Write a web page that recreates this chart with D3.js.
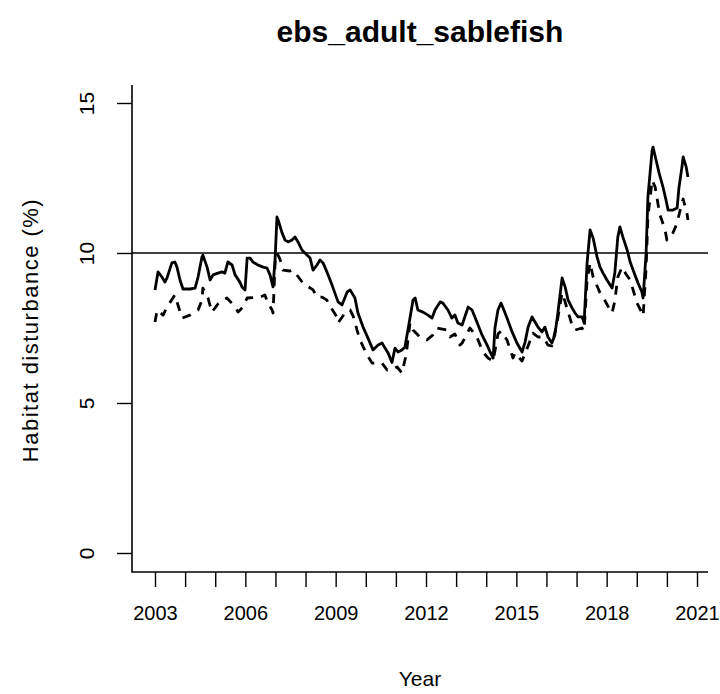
<!DOCTYPE html>
<html><head><meta charset="utf-8">
<script src="https://cdn.jsdelivr.net/npm/d3@7"></script>
<style>
html,body{margin:0;padding:0;background:#fff;}
text{font-family:"Liberation Sans",Arial,sans-serif;fill:#000;}
</style></head>
<body>
<svg id="chart" width="720" height="694"></svg>
<script>
const titleText = "ebs_adult_sablefish";
const xLabel = "Year";
const yLabel = "Habitat disturbance (%)";
const yTicks = [0, 5, 10, 15];
const xTicks = d3.range(2003, 2022);
const xTickLabels = [2003, 2006, 2009, 2012, 2015, 2018, 2021];
const refLine = 10;

const solidYears = [2003.00,2003.10,2003.23,2003.33,2003.40,2003.56,2003.66,2003.73,2003.83,2003.93,2004.16,2004.33,2004.43,2004.56,2004.59,2004.73,2004.83,2004.93,2005.09,2005.23,2005.32,2005.42,2005.56,2005.66,2005.82,2005.89,2005.99,2006.06,2006.16,2006.25,2006.42,2006.59,2006.72,2006.82,2006.92,2006.99,2007.05,2007.09,2007.22,2007.32,2007.42,2007.55,2007.65,2007.75,2007.88,2007.98,2008.15,2008.25,2008.38,2008.48,2008.58,2008.71,2008.88,2009.08,2009.21,2009.38,2009.48,2009.64,2009.74,2009.91,2010.07,2010.24,2010.41,2010.54,2010.64,2010.74,2010.87,2010.97,2011.07,2011.20,2011.30,2011.40,2011.57,2011.64,2011.73,2011.90,2012.07,2012.20,2012.30,2012.47,2012.56,2012.73,2012.86,2012.96,2013.06,2013.20,2013.40,2013.53,2013.69,2013.86,2014.03,2014.13,2014.23,2014.29,2014.39,2014.49,2014.56,2014.69,2014.86,2015.02,2015.19,2015.29,2015.39,2015.52,2015.62,2015.72,2015.85,2015.95,2016.05,2016.18,2016.28,2016.38,2016.52,2016.62,2016.72,2016.85,2016.95,2017.05,2017.18,2017.25,2017.35,2017.45,2017.55,2017.68,2017.78,2017.88,2018.01,2018.18,2018.27,2018.37,2018.44,2018.54,2018.68,2018.78,2018.94,2019.04,2019.17,2019.21,2019.31,2019.37,2019.51,2019.54,2019.64,2019.74,2019.87,2019.97,2020.04,2020.20,2020.34,2020.40,2020.50,2020.54,2020.64,2020.70];
const solidValues = [8.77,9.37,9.2,9.03,9.17,9.67,9.7,9.53,9.1,8.8,8.8,8.83,9.2,9.87,9.93,9.53,9.1,9.27,9.33,9.37,9.33,9.7,9.6,9.27,9.03,8.87,8.77,9.83,9.83,9.7,9.6,9.53,9.5,9.27,8.87,9.83,11.2,11.1,10.67,10.43,10.37,10.43,10.53,10.37,10.1,10.0,9.83,9.43,9.6,9.77,9.67,9.37,8.93,8.37,8.27,8.7,8.77,8.5,8.0,7.53,7.17,6.77,6.93,7.0,6.83,6.67,6.35,6.83,6.7,6.77,6.87,7.43,8.43,8.5,8.1,8.03,7.93,7.83,8.1,8.37,8.33,8.1,7.83,7.93,7.67,7.6,8.2,8.1,7.7,7.27,6.93,6.7,6.5,7.5,8.1,8.33,8.17,7.83,7.37,7.0,6.7,7.03,7.53,7.87,7.7,7.53,7.37,7.53,7.2,7.0,7.27,8.0,9.17,8.87,8.43,8.17,8.0,7.87,7.87,7.67,9.67,10.77,10.5,9.87,9.53,9.33,9.1,8.83,9.33,10.53,10.87,10.53,10.1,9.7,9.27,9.0,8.7,8.5,10.0,11.87,13.43,13.53,13.1,12.67,12.2,11.77,11.43,11.43,11.5,12.17,12.87,13.2,12.87,12.53];

const dashedYears = [2003.00,2003.07,2003.27,2003.40,2003.66,2003.73,2003.90,2004.16,2004.43,2004.56,2004.59,2004.76,2004.89,2005.09,2005.26,2005.39,2005.66,2005.76,2005.92,2006.06,2006.49,2006.65,2006.75,2006.89,2006.92,2006.99,2007.05,2007.15,2007.25,2007.48,2007.58,2007.71,2007.91,2008.05,2008.25,2008.38,2008.55,2008.71,2008.75,2009.04,2009.08,2009.31,2009.48,2009.58,2009.71,2009.81,2010.04,2010.21,2010.54,2010.71,2010.87,2011.04,2011.20,2011.34,2011.47,2011.57,2011.80,2012.03,2012.23,2012.37,2012.70,2012.80,2012.96,2013.13,2013.20,2013.46,2013.69,2013.89,2014.06,2014.23,2014.39,2014.49,2014.69,2014.89,2014.96,2015.19,2015.39,2015.55,2015.72,2015.89,2016.05,2016.18,2016.35,2016.52,2016.62,2016.85,2016.95,2017.18,2017.25,2017.35,2017.45,2017.55,2017.78,2017.88,2018.11,2018.18,2018.27,2018.37,2018.51,2018.64,2018.78,2019.01,2019.17,2019.21,2019.31,2019.37,2019.51,2019.61,2019.71,2019.77,2019.94,2020.00,2020.20,2020.34,2020.44,2020.54,2020.67,2020.70];
const dashedValues = [7.7,8.1,7.93,8.2,8.6,8.37,7.83,7.93,8.1,8.43,8.83,8.5,8.03,8.3,8.43,8.5,8.2,8.03,8.2,8.5,8.53,8.6,8.33,8.1,8.0,9.7,10.0,9.8,9.43,9.4,9.43,9.27,9.0,8.9,8.77,8.53,8.53,8.43,8.33,7.87,7.67,8.0,8.1,7.9,7.43,7.1,6.6,6.33,6.33,6.1,6.1,6.2,6.0,6.6,7.67,7.43,7.2,7.1,7.27,7.5,7.43,7.2,7.3,6.93,7.0,7.5,7.2,6.7,6.5,6.4,7.3,7.4,7.1,6.5,6.67,6.4,6.9,7.33,7.2,7.2,6.93,6.9,7.67,8.67,8.37,7.6,7.43,7.5,7.4,9.1,9.67,9.2,8.67,8.53,8.1,8.0,8.4,9.2,9.53,9.3,9.1,8.33,8.0,7.9,9.5,11.2,12.43,12.2,11.6,11.27,10.77,10.43,10.67,11.0,11.43,11.8,11.3,11.1];

const svg = d3.select("#chart");
svg.append("rect").attr("width",720).attr("height",694).attr("fill","#fff");

const x = d3.scaleLinear().domain([2003, 2021]).range([155, 697]);
const y = d3.scaleLinear().domain([0, 15]).range([553, 103]);
const plotL = 132, plotR = 708, plotT = 85, plotB = 572;

// L-shaped box
svg.append("path")
  .attr("d", `M${plotL},${plotT}V${plotB}H${plotR}`)
  .attr("fill","none").attr("stroke","#000").attr("stroke-width",1.6);

// Y axis
const yAxis = svg.append("g").attr("transform",`translate(${plotL},0)`)
  .call(d3.axisLeft(y).tickValues(yTicks).tickSize(15).tickFormat(d3.format("d")));
yAxis.select(".domain").remove();
yAxis.selectAll(".tick line").attr("stroke","#000").attr("stroke-width",1.4);
yAxis.selectAll(".tick text")
  .attr("x",null).attr("dy",null)
  .attr("transform","translate(-38,0) rotate(-90)")
  .attr("text-anchor","middle")
  .style("font-size","21px")
  .style("font-family","'Liberation Sans',Arial,sans-serif");

// X axis
const xAxis = svg.append("g").attr("transform",`translate(0,${plotB})`)
  .call(d3.axisBottom(x).tickValues(xTicks).tickSize(15)
    .tickFormat(d => xTickLabels.includes(d) ? String(d) : ""));
xAxis.select(".domain").remove();
xAxis.selectAll(".tick line").attr("stroke","#000").attr("stroke-width",1.4);
xAxis.selectAll(".tick text")
  .attr("y",48).attr("dy",null)
  .style("font-size","20px")
  .style("font-family","'Liberation Sans',Arial,sans-serif");

// reference line
svg.append("line")
  .attr("x1",plotL).attr("x2",plotR)
  .attr("y1",y(refLine)).attr("y2",y(refLine))
  .attr("stroke","#000").attr("stroke-width",1.6);

const line = d3.line().x(d => x(d[0])).y(d => y(d[1]));
svg.append("path")
  .datum(dashedYears.map((t,i)=>[t, dashedValues[i]]))
  .attr("d", line).attr("fill","none").attr("stroke","#000")
  .attr("stroke-width",2.8).attr("stroke-dasharray","9,8").attr("stroke-linejoin","round");
svg.append("path")
  .datum(solidYears.map((t,i)=>[t, solidValues[i]]))
  .attr("d", line).attr("fill","none").attr("stroke","#000")
  .attr("stroke-width",2.8).attr("stroke-linejoin","round");

// titles
svg.append("text").attr("x",420).attr("y",42).attr("text-anchor","middle")
  .style("font-size","30px").style("font-weight","bold").text(titleText);
svg.append("text").attr("x",420).attr("y",686).attr("text-anchor","middle")
  .style("font-size","21px").text(xLabel);
svg.append("text").attr("transform","translate(38,330) rotate(-90)").attr("text-anchor","middle")
  .style("font-size","22px").style("letter-spacing","1.5px").text(yLabel);
</script>
</body></html>
